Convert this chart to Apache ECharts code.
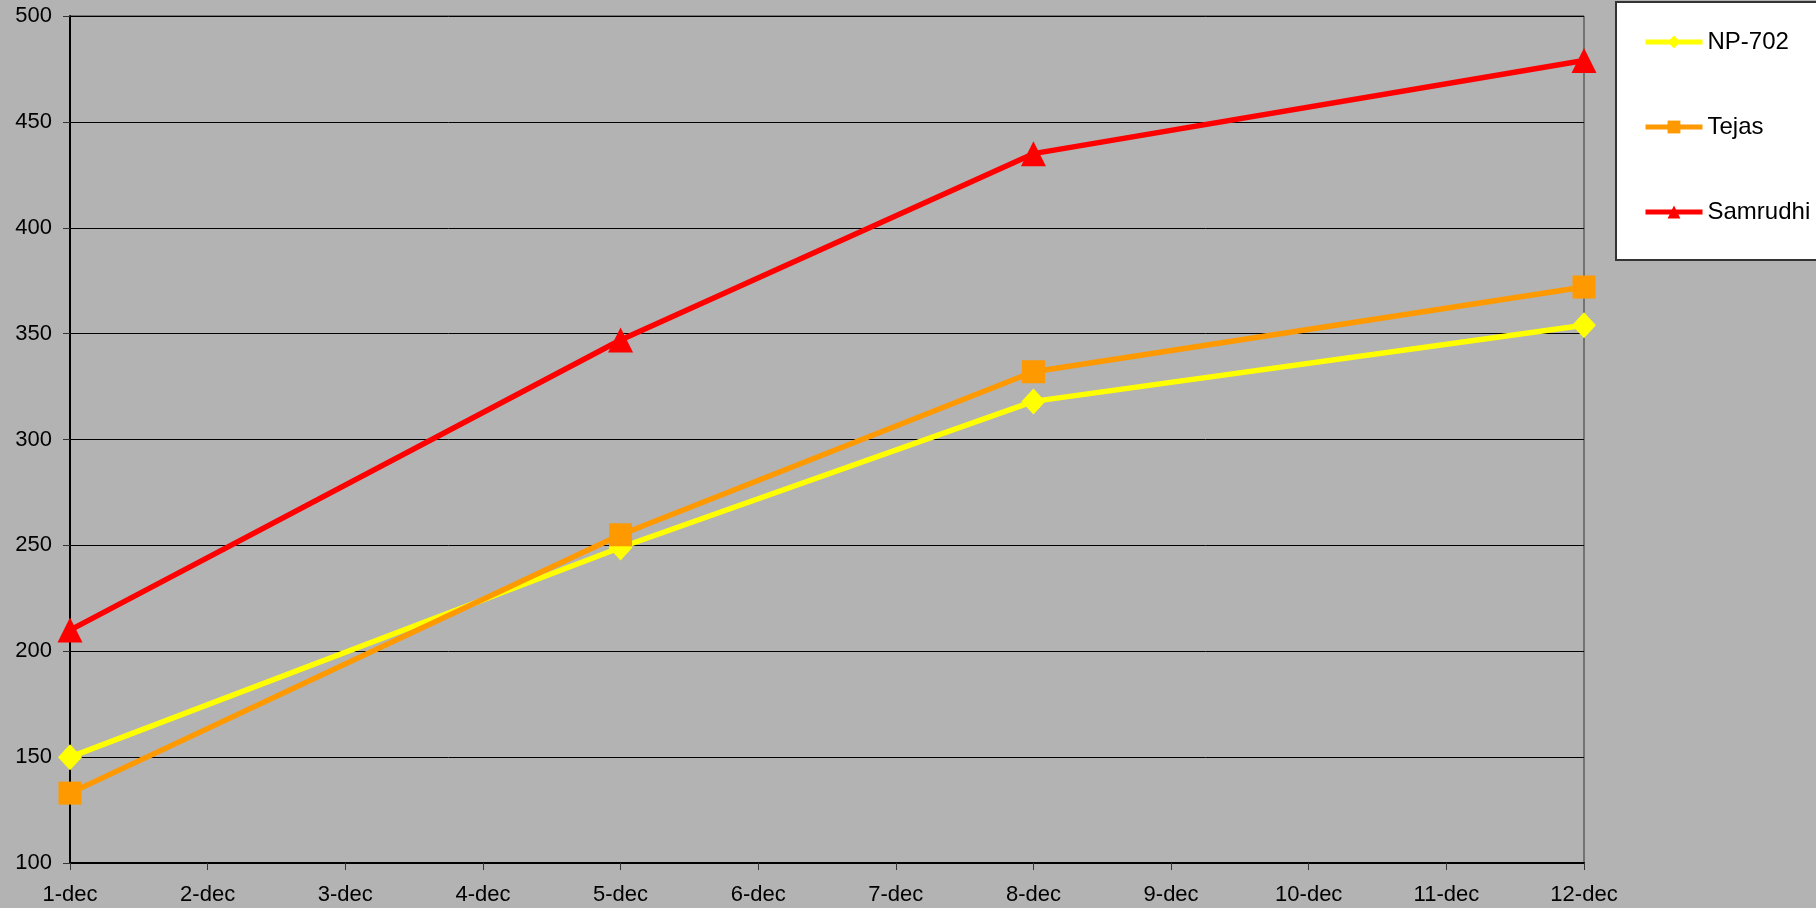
<!DOCTYPE html>
<html>
<head>
<meta charset="utf-8">
<script src="https://cdn.jsdelivr.net/npm/echarts@6/dist/echarts.min.js"></script>
<style>
  html, body { margin: 0; padding: 0; background: #b3b3b3; }
  #chart { width: 1816px; height: 908px; }
</style>
</head>
<body>
<div id="chart"></div>
<script>
// Daily readings for three varieties, 1–12 December
const categories = ['1-dec', '2-dec', '3-dec', '4-dec', '5-dec', '6-dec', '7-dec', '8-dec', '9-dec', '10-dec', '11-dec', '12-dec'];
const np702 =    [150, null, null, null, 249, null, null, 318, null, null, null, 354];
const tejas =    [133, null, null, null, 255, null, null, 332, null, null, null, 372];
const samrudhi = [210, null, null, null, 347, null, null, 435, null, null, null, 479];

const FONT = '"Liberation Sans", Arial, sans-serif';

const chart = echarts.init(document.getElementById('chart'), null, { renderer: 'canvas' });

function lineSeries(name, data, color, symbol, size) {
  return {
    name: name,
    type: 'line',
    data: data,
    connectNulls: true,
    symbol: symbol,
    symbolSize: size,
    showAllSymbol: true,
    animation: false,
    lineStyle: { color: color, width: 5.5 },
    itemStyle: { color: color },
    emphasis: { disabled: true }
  };
}

chart.setOption({
  backgroundColor: '#b3b3b3',
  animation: false,
  grid: {
    left: 70, top: 16, right: 232, bottom: 45,
    show: true, borderColor: '#333', borderWidth: 1, backgroundColor: 'transparent'
  },
  graphic: [{
    type: 'rect',
    left: 1615, top: 1,
    shape: { width: 220, height: 258 },
    style: { fill: '#ffffff', stroke: '#333333', lineWidth: 2 },
    z: 0
  }],
  legend: {
    orient: 'vertical',
    left: 1643, top: 28,
    padding: 0,
    itemWidth: 57, itemHeight: 16,
    itemGap: 57,
    lineStyle: { width: 5 },
    textStyle: { fontFamily: FONT, fontSize: 24, color: '#000', lineHeight: 28 },
    selectedMode: false,
    data: ['NP-702', 'Tejas', 'Samrudhi'],
    z: 5
  },
  xAxis: {
    type: 'category',
    data: categories,
    boundaryGap: false,
    axisLine: { lineStyle: { color: '#000', width: 2 } },
    axisTick: { show: true, length: 7, alignWithLabel: true, lineStyle: { color: '#333', width: 1 } },
    axisLabel: { fontFamily: FONT, fontSize: 22, color: '#000', margin: 21, interval: 0 },
    splitLine: { show: false }
  },
  yAxis: {
    type: 'value',
    min: 100, max: 500, interval: 50,
    axisLine: { show: true, lineStyle: { color: '#000', width: 2 } },
    axisTick: { show: true, length: 7, lineStyle: { color: '#333', width: 1 } },
    axisLabel: { fontFamily: FONT, fontSize: 22, color: '#000', margin: 18 },
    splitLine: { show: true, lineStyle: { color: '#000', width: 1 } }
  },
  series: [
    lineSeries('NP-702', np702, '#ffff00', 'diamond', [24, 26]),
    lineSeries('Tejas', tejas, '#ff9900', 'rect', 23),
    lineSeries('Samrudhi', samrudhi, '#ff0000', 'triangle', [25, 25])
  ]
});
</script>
</body>
</html>
